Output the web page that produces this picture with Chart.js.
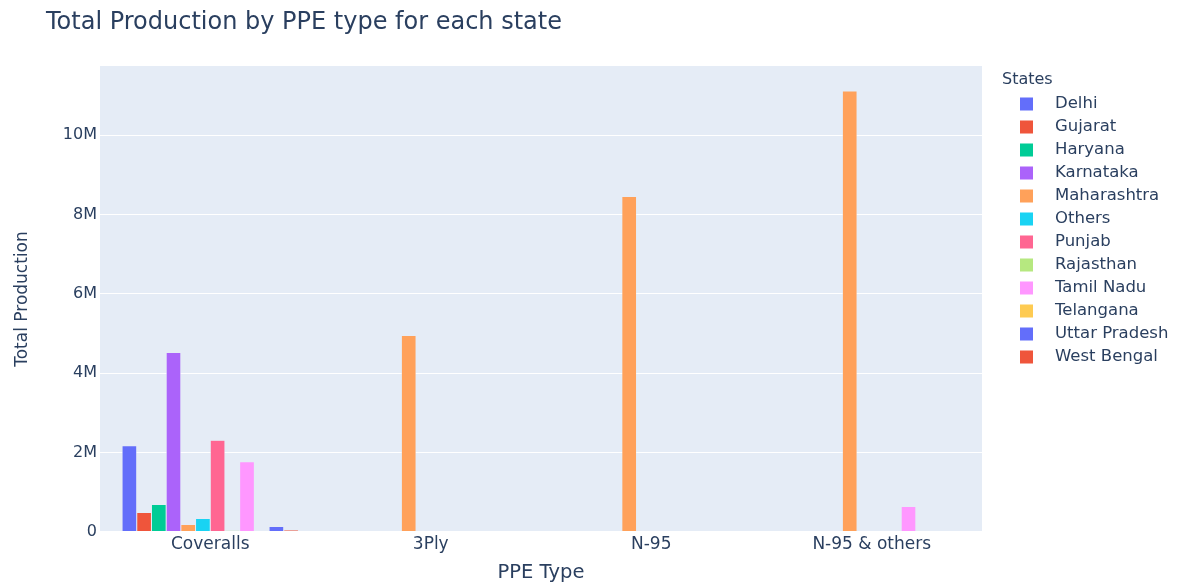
<!DOCTYPE html>
<html>
<head>
<meta charset="utf-8">
<script src="https://cdn.jsdelivr.net/npm/chart.js@4"></script>
<style>
html,body{margin:0;padding:0;background:#fff;}
#wrap{width:1184px;height:586px;position:relative;}
</style>
</head>
<body>
<div id="wrap"><canvas id="c" width="1184" height="586"></canvas></div>
<script>
const categories = ['Coveralls', '3Ply', 'N-95', 'N-95 & others'];
const states = ['Delhi','Gujarat','Haryana','Karnataka','Maharashtra','Others','Punjab','Rajasthan','Tamil Nadu','Telangana','Uttar Pradesh','West Bengal'];
const delhi        = [2170000, null, null, null];
const gujarat      = [490000, null, null, null];
const haryana      = [690000, null, null, null];
const karnataka    = [4520000, null, null, null];
const maharashtra  = [190000, 4950000, 8450000, 11110000];
const others       = [340000, null, null, null];
const punjab       = [2310000, null, null, null];
const rajasthan    = [40000, null, null, null];
const tamilNadu    = [1770000, null, null, 640000];
const telangana    = [null, null, null, null];
const uttarPradesh = [140000, null, null, null];
const westBengal   = [50000, null, null, null];
const seriesValues = [delhi, gujarat, haryana, karnataka, maharashtra, others, punjab, rajasthan, tamilNadu, telangana, uttarPradesh, westBengal];
const yTicks = [0, 2000000, 4000000, 6000000, 8000000, 10000000];
const yTickLabels = ['0', '2M', '4M', '6M', '8M', '10M'];
const colors = ['#636efa','#EF553B','#00cc96','#ab63fa','#FFA15A','#19d3f3','#FF6692','#B6E880','#FF97FF','#FECB52','#636efa','#EF553B'];

const FONT = '"DejaVu Sans", Verdana, sans-serif';
const TXT = '#2a3f5f';

const bgPlugin = {
  id: 'bg',
  beforeDraw(chart) {
    const {ctx, chartArea: a} = chart;
    ctx.save();
    ctx.fillStyle = '#E5ECF6';
    ctx.fillRect(a.left, a.top, a.right - a.left, a.bottom - a.top);
    ctx.restore();
  }
};

const extrasPlugin = {
  id: 'extras',
  afterDraw(chart) {
    const ctx = chart.ctx;
    ctx.save();
    ctx.fillStyle = TXT;
    ctx.textBaseline = 'middle';
    ctx.textAlign = 'left';
    ctx.font = '24px ' + FONT;
    ctx.fillText('Total Production by PPE type for each state', 46, 23);
    ctx.font = '16px ' + FONT;
    ctx.fillText('States', 1002, 80);
    ctx.font = '16.5px ' + FONT;
    chart.data.datasets.forEach((ds, i) => {
      const y = 104 + 23 * i;
      ctx.fillStyle = ds.backgroundColor;
      ctx.fillRect(1020, y - 6.5, 13, 13);
      ctx.fillStyle = TXT;
      ctx.fillText(ds.label, 1055, y);
    });
    ctx.restore();
  }
};

new Chart(document.getElementById('c'), {
  type: 'bar',
  data: {
    labels: categories,
    datasets: states.map((s, i) => ({
      label: s,
      data: seriesValues[i],
      backgroundColor: colors[i],
      borderColor: '#E5ECF6',
      borderWidth: 0.5,
      categoryPercentage: 0.8,
      barPercentage: 1.0
    }))
  },
  options: {
    responsive: false,
    animation: false,
    events: [],
    layout: { padding: { left: 0, right: 202, top: 66, bottom: 0 } },
    plugins: {
      legend: { display: false },
      title: { display: false },
      tooltip: { enabled: false }
    },
    scales: {
      x: {
        grid: { display: false, drawTicks: false },
        border: { display: false },
        ticks: { color: TXT, font: { family: FONT, size: 17 }, padding: 2, maxRotation: 0 },
        title: { display: true, text: 'PPE Type', color: TXT, font: { family: FONT, size: 19.5 }, padding: { top: 0, bottom: 1 } },
        afterFit(s) { s.height = 54; }
      },
      y: {
        min: 0,
        max: 11740000,
        grid: {
          color: '#ffffff',
          lineWidth: c => (c.tick && c.tick.value === 0 ? 2 : 1),
          drawTicks: false
        },
        border: { display: false },
        afterBuildTicks(s) { s.ticks = yTicks.map(v => ({ value: v })); },
        ticks: {
          color: TXT,
          font: { family: FONT, size: 16 },
          padding: 3,
          callback: (v) => { const k = yTicks.indexOf(v); return k >= 0 ? yTickLabels[k] : ''; }
        },
        title: { display: true, text: 'Total Production', color: TXT, font: { family: FONT, size: 17 }, padding: { top: 12, bottom: 0 } },
        afterFit(s) { s.width = 100; }
      }
    }
  },
  plugins: [bgPlugin, extrasPlugin]
});
</script>
</body>
</html>
